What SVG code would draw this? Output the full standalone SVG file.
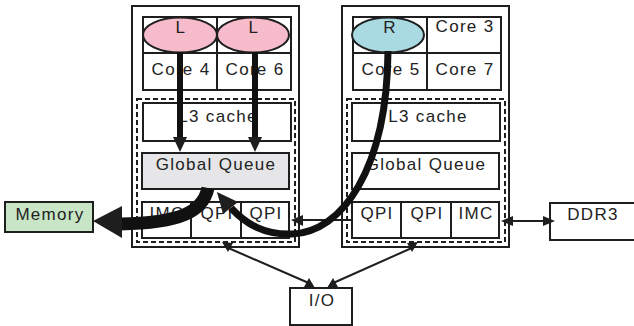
<svg xmlns="http://www.w3.org/2000/svg" width="634" height="326" viewBox="0 0 634 326">
  <style>
    .box { fill: #ffffff; stroke: #1e1e1e; stroke-width: 2; }
    .frame { fill: #ffffff; stroke: #1e1e1e; stroke-width: 2; }
    .dash { fill: none; stroke: #1e1e1e; stroke-width: 2; stroke-dasharray: 5 3; }
    .div { stroke: #1e1e1e; stroke-width: 2; }
    .lbl { font-family: "Liberation Sans", Arial, sans-serif; font-size: 17px; letter-spacing: 1.3px; fill: #222222; text-anchor: middle; }
    .wire { stroke: #1e1e1e; stroke-width: 2; fill: none; }
    .head { fill: #1e1e1e; }
    .thick { stroke: #111111; fill: none; }
  </style>

  <!-- socket 0 (left) -->
  <g id="socket-left">
    <rect class="frame" x="132" y="6" width="167" height="241"/>
    <rect class="box" x="143" y="17" width="148" height="73"/>
    <line class="div" x1="217" y1="17" x2="217" y2="90"/>
    <line class="div" x1="143" y1="53" x2="291" y2="53"/>
    <text class="lbl" x="181" y="75">Core 4</text>
    <text class="lbl" x="255" y="75">Core 6</text>
    <ellipse cx="180" cy="35" rx="37" ry="17.5" fill="#f7bccb" stroke="#1e1e1e" stroke-width="2"/>
    <ellipse cx="253" cy="35" rx="36" ry="17.5" fill="#f7bccb" stroke="#1e1e1e" stroke-width="2"/>
    <text class="lbl" x="181" y="33">L</text>
    <text class="lbl" x="254" y="33">L</text>
    <rect class="dash" x="137" y="99" width="158" height="143"/>
    <rect class="box" x="143" y="103" width="148" height="38"/>
    <text class="lbl" x="218" y="122">L3 cache</text>
    <rect class="box" x="142" y="153" width="147" height="36" style="fill:#e6e6e8"/>
    <text class="lbl" x="216" y="170">Global Queue</text>
    <rect class="box" x="142" y="202" width="147" height="36"/>
    <line class="div" x1="191" y1="202" x2="191" y2="238"/>
    <line class="div" x1="241" y1="202" x2="241" y2="238"/>
    <text class="lbl" x="167" y="219">IMC</text>
    <text class="lbl" x="217" y="219">QPI</text>
    <text class="lbl" x="266" y="219">QPI</text>
  </g>

  <!-- socket 1 (right) -->
  <g id="socket-right">
    <rect class="frame" x="342" y="6" width="167" height="241"/>
    <rect class="box" x="353" y="17" width="148" height="73"/>
    <line class="div" x1="427" y1="17" x2="427" y2="90"/>
    <line class="div" x1="353" y1="53" x2="501" y2="53"/>
    <text class="lbl" x="391" y="75">Core 5</text>
    <text class="lbl" x="465" y="75">Core 7</text>
    <text class="lbl" x="465" y="32">Core 3</text>
    <ellipse cx="388" cy="35" rx="36" ry="17.5" fill="#a9d9e1" stroke="#1e1e1e" stroke-width="2"/>
    <text class="lbl" x="390" y="33">R</text>
    <rect class="dash" x="347" y="99" width="158" height="143"/>
    <rect class="box" x="352" y="103" width="148" height="38"/>
    <text class="lbl" x="428" y="122">L3 cache</text>
    <rect class="box" x="352" y="153" width="147" height="36"/>
    <text class="lbl" x="426" y="170">Global Queue</text>
    <rect class="box" x="352" y="202" width="147" height="36"/>
    <line class="div" x1="401" y1="202" x2="401" y2="238"/>
    <line class="div" x1="451" y1="202" x2="451" y2="238"/>
    <text class="lbl" x="377" y="219">QPI</text>
    <text class="lbl" x="427" y="219">QPI</text>
    <text class="lbl" x="476" y="219">IMC</text>
  </g>

  <!-- external nodes -->
  <g id="memory">
    <rect x="5" y="202" width="88" height="30" fill="#c8e5c6" stroke="#1e1e1e" stroke-width="2"/>
    <text class="lbl" x="50" y="220">Memory</text>
  </g>
  <g id="ddr3">
    <rect class="box" x="550" y="203" width="95" height="37"/>
    <text class="lbl" x="593" y="220">DDR3</text>
  </g>
  <g id="io">
    <rect class="box" x="290" y="288" width="62" height="37"/>
    <text class="lbl" x="322" y="306">I/O</text>
  </g>

  <!-- connectors -->
  <g id="connectors">
    <!-- QPI link -->
    <line class="wire" x1="302" y1="220" x2="352" y2="220"/>
    <polygon class="head" points="291,220 303,215 303,226"/>
    <!-- IMC to DDR3 -->
    <line class="wire" x1="510" y1="221" x2="545" y2="221"/>
    <polygon class="head" points="501,221 513,216 513,226"/>
    <polygon class="head" points="555,221 543,216 543,226"/>
    <!-- sockets to I/O -->
    <line class="wire" x1="226" y1="247" x2="311" y2="284"/>
    <polygon class="head" points="222,242 233,243 228,252"/>
    <polygon class="head" points="315,288 304,287 309,278"/>
    <line class="wire" x1="414" y1="247" x2="331" y2="284"/>
    <polygon class="head" points="418,242 407,243 412,252"/>
    <polygon class="head" points="327,288 338,287 333,278"/>

    <!-- local requests down to the global queue -->
    <line class="thick" x1="180" y1="52" x2="180" y2="139" stroke-width="6"/>
    <polygon class="head" points="180,152 173,137 187,137"/>
    <line class="thick" x1="255" y1="52" x2="255" y2="139" stroke-width="6"/>
    <polygon class="head" points="255,152 248,137 262,137"/>

    <!-- global queue out to memory -->
    <path class="thick" d="M 208 188 C 203 212, 180 223, 120 224" stroke-width="13"/>
    <polygon class="head" points="93,221 122,206 122,238"/>

    <!-- remote request across QPI into the global queue -->
    <path class="thick" d="M 388 51 C 387 170, 342 232, 292 234 C 264 235, 246 224, 231 208" stroke-width="7"/>
    <polygon class="head" points="217,192 238,202 223,214"/>
  </g>
</svg>
